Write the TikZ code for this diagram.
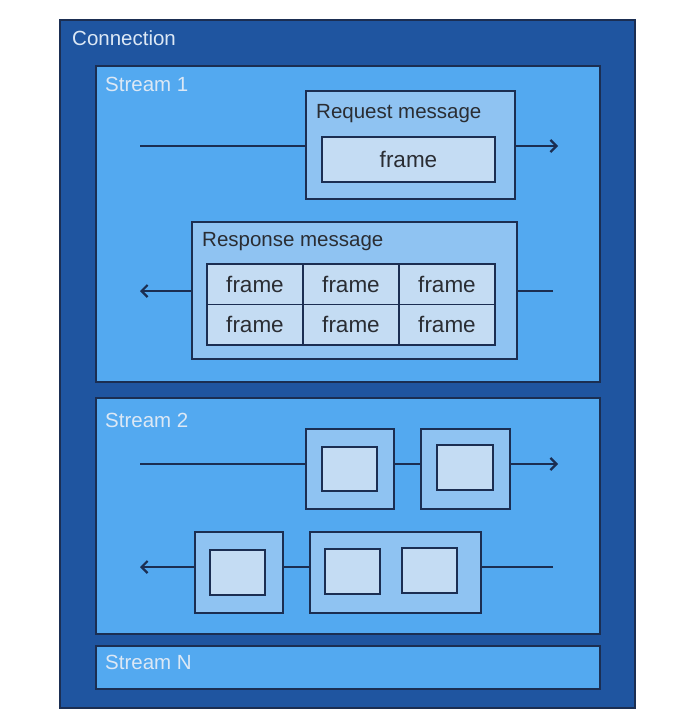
\documentclass[tikz,border=0pt]{standalone}
\usepackage{fontspec}
\setmainfont{Liberation Sans}
\usetikzlibrary{arrows.meta}
\definecolor{connbg}{HTML}{1F55A0}
\definecolor{streambg}{HTML}{53A9F0}
\definecolor{msgbg}{HTML}{8FC3F2}
\definecolor{framebg}{HTML}{C4DCF3}
\definecolor{edge}{HTML}{1B2E52}
\definecolor{lighttext}{HTML}{DCE8F5}
\definecolor{darktext}{HTML}{2A2D33}
\tikzset{
  box/.style={draw=edge, line width=1.5pt, anchor=north west, inner sep=0pt, outer sep=0pt},
  connbox/.style={box, fill=connbg},
  streambox/.style={box, fill=streambg},
  msgbox/.style={box, fill=msgbg},
  framebox/.style={box, fill=framebg},
  lightlabel/.style={anchor=base west, inner sep=0pt, text=lighttext, font=\fontsize{20.5}{22}\selectfont},
  darklabel/.style={anchor=base west, inner sep=0pt, text=darktext, font=\fontsize{20.5}{22}\selectfont},
  frametext/.style={text=darktext, font=\fontsize{22.5}{24}\selectfont},
  flow/.style={draw=edge, line width=2.2pt},
  flowarrow/.style={flow, -{Straight Barb[length=6pt,width=12pt,line width=2.2pt]}},
}
\begin{document}
\begin{tikzpicture}[x=1pt,y=-1pt]
\useasboundingbox[fill=white] (0,0) rectangle (674,717);

% outer connection
\node[connbox, minimum width=575, minimum height=688] (conn) at (60,20) {};
\node[lightlabel] (connlbl) at (72,46) {Connection};

% stream 1
\node[streambox, minimum width=504, minimum height=316] (s1) at (96,66) {};
\node[lightlabel] (s1lbl) at (105,92) {Stream 1};

\node[msgbox, minimum width=209, minimum height=108] (req) at (306,91) {};
\node[darklabel] (reqlbl) at (316,118) {Request message};
\node[framebox, minimum width=173, minimum height=45] (reqf) at (322,137) {};
\node[frametext] (reqft) at (reqf.center) {frame};

\coordinate (s1in) at (140,146);
\coordinate (s1out) at (558,146);
\draw[flow] (s1in) -- (s1in -| req.west);
\draw[flowarrow] (req.east |- s1out) -- (s1out);

\node[msgbox, minimum width=325, minimum height=137] (resp) at (192,222) {};
\node[darklabel] (resplbl) at (202,246) {Response message};
\node[framebox, minimum width=288, minimum height=81] (grid) at (207,264) {};
\draw[draw=edge, line width=1.5pt] (303,264) -- (303,345) (399,264) -- (399,345) (207,304.5) -- (495,304.5);
\foreach \cx in {255,351,447}{
  \node[frametext] at (\cx,284) {frame};
  \node[frametext] at (\cx,324) {frame};
}
\coordinate (r1out) at (140,291);
\coordinate (r1in) at (553,291);
\draw[flowarrow] (resp.west |- r1out) -- (r1out);
\draw[flow] (r1in) -- (r1in -| resp.east);

% stream 2
\node[streambox, minimum width=504, minimum height=236] (s2) at (96,398) {};
\node[lightlabel] (s2lbl) at (105,427) {Stream 2};

\node[msgbox, minimum width=88, minimum height=80] (qa) at (306,429) {};
\node[framebox, minimum width=55, minimum height=44] (qaf) at (322,447) {};
\node[msgbox, minimum width=89, minimum height=80] (qb) at (421,429) {};
\node[framebox, minimum width=56, minimum height=45] (qbf) at (437,445) {};
\coordinate (s2in) at (140,464);
\coordinate (s2out) at (558,464);
\draw[flow] (s2in) -- (s2in -| qa.west);
\draw[flow] (qa.east |- s2in) -- (qb.west |- s2in);
\draw[flowarrow] (qb.east |- s2out) -- (s2out);

\node[msgbox, minimum width=88, minimum height=81] (pc) at (195,532) {};
\node[framebox, minimum width=55, minimum height=45] (pcf) at (210,550) {};
\node[msgbox, minimum width=171, minimum height=81] (pd) at (310,532) {};
\node[framebox, minimum width=55, minimum height=45] (pdf1) at (325,549) {};
\node[framebox, minimum width=55, minimum height=45] (pdf2) at (402,548) {};
\coordinate (s2rout) at (140,567);
\coordinate (s2rin) at (553,567);
\draw[flowarrow] (pc.west |- s2rout) -- (s2rout);
\draw[flow] (pc.east |- s2rout) -- (pd.west |- s2rout);
\draw[flow] (s2rin) -- (s2rin -| pd.east);

% stream N
\node[streambox, minimum width=504, minimum height=43] (sn) at (96,646) {};
\node[lightlabel] (snlbl) at (105,669) {Stream N};
\end{tikzpicture}
\end{document}
